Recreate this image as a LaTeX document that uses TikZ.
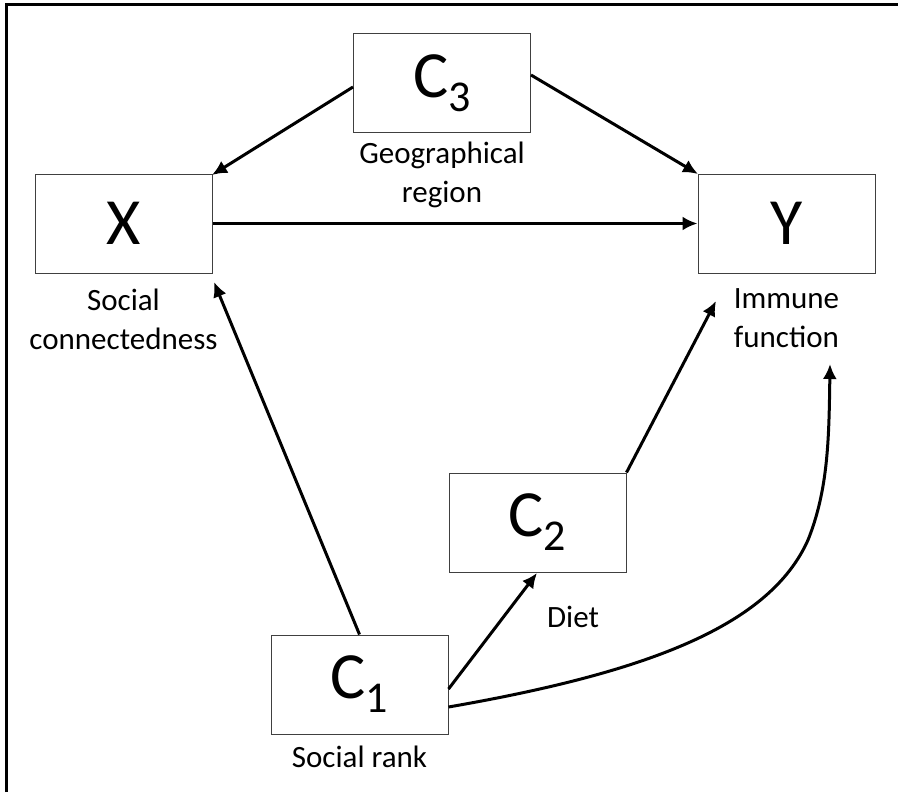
\documentclass[tikz,border=0pt]{standalone}
\usepackage{fontspec}
\setmainfont{Carlito}
\usetikzlibrary{positioning}
\usetikzlibrary{arrows.meta}
\newcommand{\csub}[1]{C\raisebox{-7pt}{\fontsize{22}{24}\selectfont #1}}

\begin{document}
\begin{tikzpicture}[x=0.5pt, y=-0.5pt]
    \tikzstyle{block}=[draw=black!75,line width=0.5pt,rectangle,fill=none,minimum width=88.5pt,minimum height=49.5pt, inner sep=0pt, font=\fontsize{33}{36}\selectfont]
    \tikzstyle{link}=[-{Latex[length=7.5pt,width=7pt]}, line width=1.5pt]
    \tikzstyle{annot} = [align=center, font=\fontsize{15.5}{19.5}\selectfont]

    \useasboundingbox (0,0) rectangle (898,792);
    \draw[line width=1.5pt] (6.5,792) -- (6.5,5) -- (898,5);

	\node[block] (C3) at (442,83) {\csub{3}};
	\node[block] (X) at (123.5,223.5) {X};
	\node[block] (Y) at (786.5,223.5) {Y};
	\node[block] (C2) at (537.5,522.5) {\csub{2}};
	\node[block] (C1) at (359.5,684.5) {\csub{1}};

	\coordinate (xtop) at (212,175);
	\coordinate (ytop) at (698,174);
	\coordinate (xbot) at (214,282);
	\coordinate (ybot) at (716,301);
	\coordinate (yend) at (830,364);

    \draw[link] (C3.west |- 0,87) -- (xtop);
    \draw[link] (C3.east |- 0,75) -- (ytop);
    \draw[link] (X) -- (Y);
    \draw[link] (C1.north) -- (xbot);
    \draw[link] (C1.east |- 0,689) -- (537,573);
    \draw[link] (C2.north east) -- (ybot);
    \draw[link] (C1.east |- 0,707) .. controls (650,672) and (770,625) .. (808,540) .. controls (828,490) and (829,440) .. (yend);

    \node[annot, below=1pt of C3] {Geographical\\region};
    \node[annot, below=4pt of X] {Social\\connectedness};
    \node[annot, below=4pt of Y] {Immune\\function};
    \node[annot] at (573,617) {Diet};
    \node[annot, below=2pt of C1] {Social rank};
\end{tikzpicture}
\end{document}
